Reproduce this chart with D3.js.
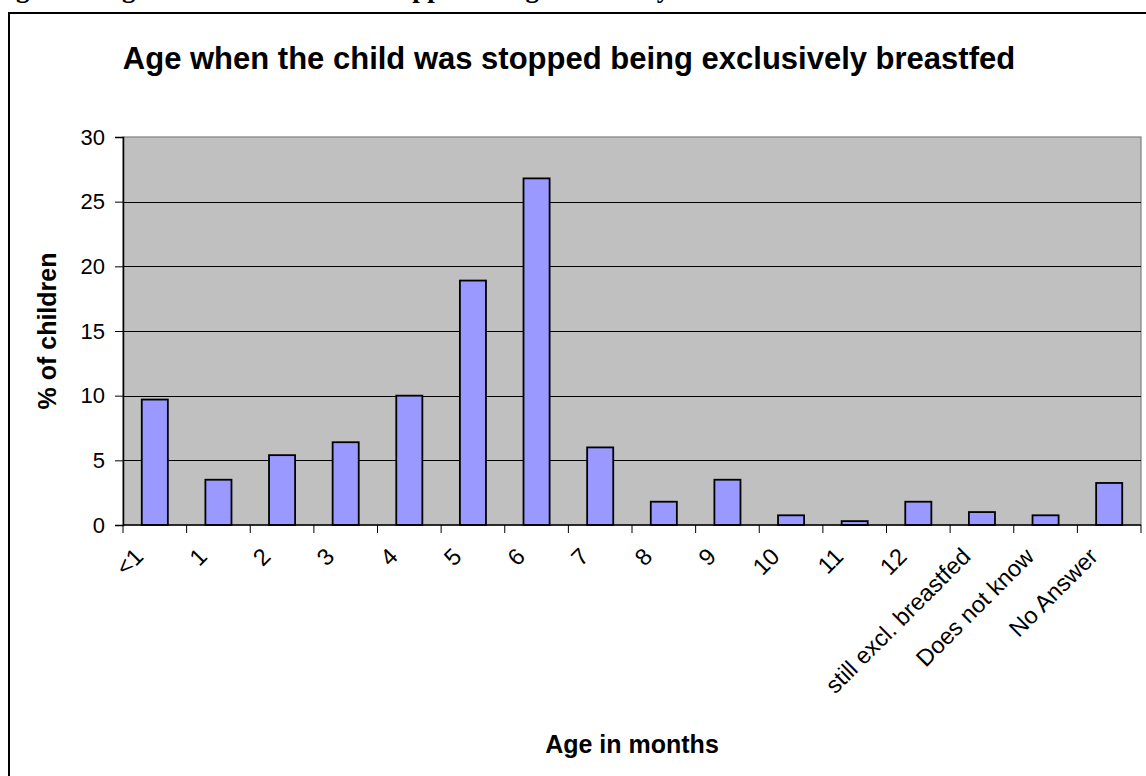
<!DOCTYPE html>
<html>
<head>
<meta charset="utf-8">
<script src="https://cdn.jsdelivr.net/npm/d3@7"></script>
<style>
  html, body { margin: 0; padding: 0; background: #ffffff; overflow: hidden; }
  svg { display: block; }
</style>
</head>
<body>
<svg id="chart" width="1146" height="776"></svg>
<script>
// Age (in months) at which exclusive breastfeeding stopped
const categories = ["<1", "1", "2", "3", "4", "5", "6", "7", "8", "9", "10", "11", "12",
  "still excl. breastfed", "Does not know", "No Answer"];
const percentChildren = [9.7, 3.5, 5.4, 6.4, 10.0, 18.9, 26.8, 6.0, 1.8, 3.5, 0.75, 0.3, 1.8, 1.0, 0.75, 3.25];
const yTicks = [0, 5, 10, 15, 20, 25, 30];

const captionText = "Figure 8: Age when the child was stopped being exclusively breastfed";
const titleText = "Age when the child was stopped being exclusively breastfed";
const xTitle = "Age in months";
const yTitle = "% of children";

const svg = d3.select("#chart");
const W = 1146, H = 776;
const plot = { left: 123, top: 137, right: 1141, bottom: 525 };
const sans = "Arial, 'Liberation Sans', sans-serif";

// Document caption above the chart frame (runs off the top edge)
svg.append("text")
  .attr("x", -8).attr("y", -3)
  .attr("font-family", "'Liberation Serif', 'Times New Roman', serif")
  .attr("font-weight", "bold").attr("font-size", 27)
  .text(captionText);

// Chart frame
svg.append("path")
  .attr("d", `M9,${H + 5} V13 H${W + 5}`)
  .attr("fill", "none").attr("stroke", "#000").attr("stroke-width", 2);

const x = d3.scaleBand().domain(categories)
  .range([plot.left, plot.right]).paddingInner(0.59).paddingOuter(0.295);
const y = d3.scaleLinear().domain([0, 30]).range([plot.bottom, plot.top]);

// Plot area background
svg.append("rect")
  .attr("x", plot.left).attr("y", plot.top)
  .attr("width", plot.right - plot.left).attr("height", plot.bottom - plot.top)
  .attr("fill", "#c0c0c0").attr("stroke", "#808080").attr("stroke-width", 1.2);

// Gridlines
svg.append("g").selectAll("line").data(yTicks.filter(t => t > 0 && t < 30)).join("line")
  .attr("x1", plot.left).attr("x2", plot.right)
  .attr("y1", d => Math.round(y(d)) + 0.5).attr("y2", d => Math.round(y(d)) + 0.5)
  .attr("stroke", "#000").attr("stroke-width", 1);

// Bars
svg.append("g").selectAll("rect").data(percentChildren).join("rect")
  .attr("x", (d, i) => x(categories[i]))
  .attr("width", x.bandwidth())
  .attr("y", d => y(d))
  .attr("height", d => y(0) - y(d))
  .attr("fill", "#9999ff").attr("stroke", "#000").attr("stroke-width", 1.8);

// Y axis
const yAxis = svg.append("g")
  .attr("transform", `translate(${plot.left},0)`)
  .call(d3.axisLeft(y).tickValues(yTicks).tickSize(8).tickPadding(10).tickFormat(d3.format("d")));
yAxis.select(".domain").attr("stroke", "#000").attr("stroke-width", 1.5);
yAxis.selectAll(".tick line").attr("stroke", "#000");
yAxis.selectAll(".tick text")
  .attr("font-family", sans)
  .attr("font-size", 22).attr("fill", "#000");

// X axis: ticks sit on the category boundaries
const xAxisG = svg.append("g").attr("transform", `translate(0,${plot.bottom})`);
xAxisG.append("line")
  .attr("x1", plot.left).attr("x2", plot.right)
  .attr("stroke", "#000").attr("stroke-width", 1.5);
const step = x.step();
const firstEdge = x(categories[0]) - step * x.paddingOuter();
const boundaries = d3.range(categories.length + 1).map(i => firstEdge + i * step);
xAxisG.selectAll("line.tk").data(boundaries).join("line").attr("class", "tk")
  .attr("x1", d => d).attr("x2", d => d).attr("y1", 0).attr("y2", 8)
  .attr("stroke", "#000").attr("stroke-width", 1);

xAxisG.selectAll("text").data(categories).join("text")
  .attr("transform", d => `translate(${x(d) + x.bandwidth() / 2 - 10},${33}) rotate(-45)`)
  .attr("text-anchor", "end")
  .attr("font-family", sans)
  .attr("font-size", 23.5).attr("fill", "#000")
  .text(d => d);

// Titles
svg.append("text")
  .attr("x", 569).attr("y", 69)
  .attr("text-anchor", "middle")
  .attr("font-family", sans)
  .attr("font-weight", "bold").attr("font-size", 31)
  .text(titleText);

svg.append("text")
  .attr("x", (plot.left + plot.right) / 2).attr("y", 753)
  .attr("text-anchor", "middle")
  .attr("font-family", sans)
  .attr("font-weight", "bold").attr("font-size", 25)
  .text(xTitle);

svg.append("text")
  .attr("transform", `translate(56,${(plot.top + plot.bottom) / 2}) rotate(-90)`)
  .attr("text-anchor", "middle")
  .attr("font-family", sans)
  .attr("font-weight", "bold").attr("font-size", 25)
  .text(yTitle);
</script>
</body>
</html>
